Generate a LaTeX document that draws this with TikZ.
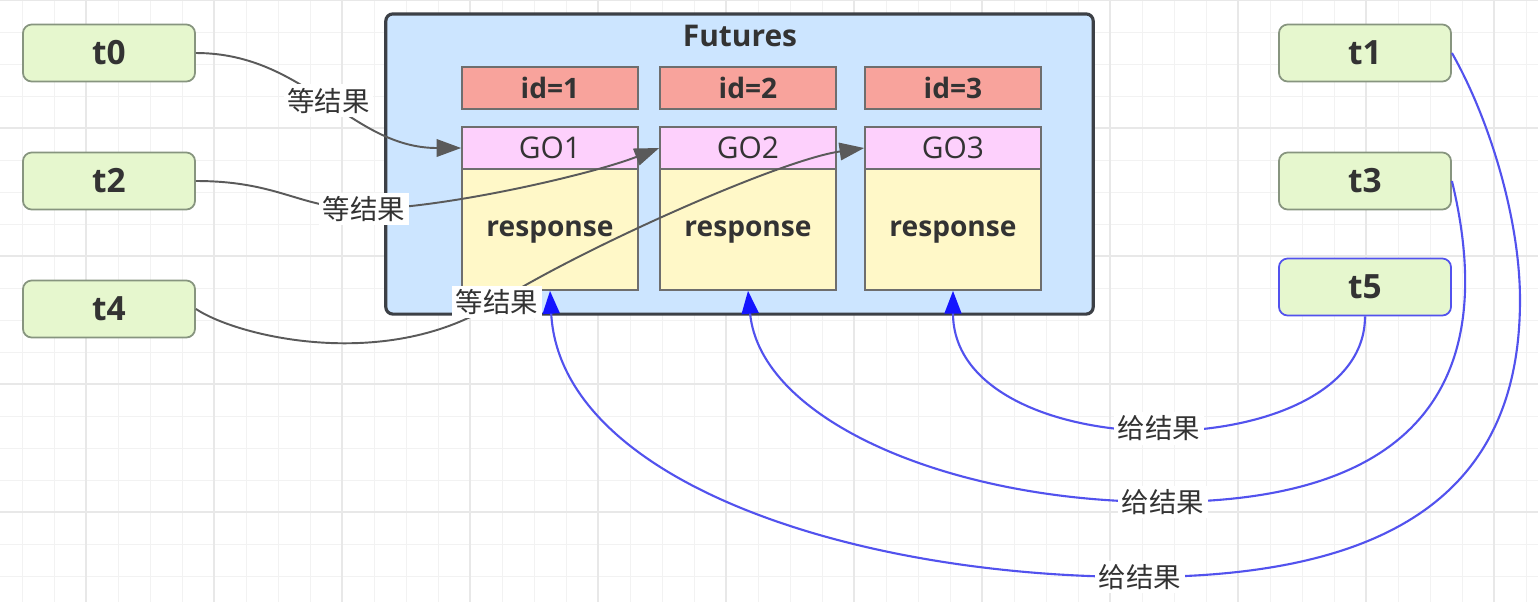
\documentclass[tikz,border=0pt]{standalone}
\usepackage{fontspec}
\setmainfont{Open Sans}
\newfontfamily\cjk{Noto Sans CJK SC}
\usetikzlibrary{arrows.meta}

\definecolor{textdark}{HTML}{333333}
\definecolor{threadfill}{HTML}{E6F7CE}
\definecolor{threadline}{HTML}{87957F}
\definecolor{futfill}{HTML}{CCE5FF}
\definecolor{futline}{HTML}{3C4046}
\definecolor{cellline}{HTML}{6E6E6E}
\definecolor{idfill}{HTML}{F8A39C}
\definecolor{gofill}{HTML}{FDD0FC}
\definecolor{respfill}{HTML}{FFF8C8}
\definecolor{waitline}{HTML}{5A5A5A}
\definecolor{giveline}{HTML}{5252EE}
\definecolor{giveblue}{HTML}{1414FF}

\begin{document}
\begin{tikzpicture}[
    x=0.01cm, y=-0.01cm,
    thread/.style={
        rectangle,
        rounded corners=2.5pt,
        draw=threadline,
        fill=threadfill,
        line width=0.5pt,
        minimum width=1.72cm,
        minimum height=0.57cm,
        text=textdark,
        font=\bfseries\fontsize{9.5}{12}\selectfont
    },
    futbox/.style={
        rectangle,
        rounded corners=2pt,
        draw=futline,
        fill=futfill,
        line width=0.9pt,
        minimum width=7.07cm,
        minimum height=3.0cm
    },
    cell/.style={
        rectangle,
        draw=cellline,
        line width=0.45pt,
        minimum width=1.76cm,
        inner sep=0pt,
        text=textdark
    },
    idbox/.style={cell, fill=idfill, minimum height=0.42cm,
        font=\bfseries\fontsize{8}{10}\selectfont},
    gobox/.style={cell, fill=gofill, minimum height=0.42cm,
        font=\fontsize{8.5}{10}\selectfont},
    respbox/.style={cell, fill=respfill, minimum height=1.21cm,
        text height=0.21cm, font=\bfseries\fontsize{8}{10}\selectfont},
    wait/.style={draw=waitline, line width=0.55pt,
        -{Triangle[length=7pt,width=5pt]}},
    give/.style={draw=giveline, line width=0.6pt,
        -{Triangle[length=6.5pt,width=4.8pt,color=giveblue]}},
    lbl/.style={fill=white, inner sep=1pt, text=textdark,
        font=\cjk\fontsize{7.8}{9}\selectfont},
    gridminor/.style={draw=black!5, line width=0.25pt},
    gridmajor/.style={draw=black!9, line width=0.35pt}
]

% Background grid
\useasboundingbox (0,0) rectangle (1538,602);
\fill[white] (0,0) rectangle (1538,602);
\foreach \gx in {22,54,...,1538} \draw[gridminor] (\gx,0) -- (\gx,602);
\foreach \gy in {0,32,...,602} \draw[gridminor] (0,\gy) -- (1538,\gy);
\foreach \gx in {86,214,...,1538} \draw[gridmajor] (\gx,0) -- (\gx,602);
\foreach \gy in {0,128,...,602} \draw[gridmajor] (0,\gy) -- (1538,\gy);

% Waiting threads
\node (t0) [thread] at (109,53) {t0};
\node (t2) [thread] at (109,181) {t2};
\node (t4) [thread] at (109,309) {t4};

% Result threads
\node (t1) [thread] at (1365,53) {t1};
\node (t3) [thread] at (1365,181) {t3};
\node (t5) [thread, draw=giveline] at (1365,287) {t5};

% Futures container
\node (fut) [futbox] at (739.5,164) {};
\node (title) [text=textdark, font=\bfseries\fontsize{8.5}{10}\selectfont]
    at (740,36) {Futures};

\foreach \i/\cx in {1/550, 2/748, 3/953} {
    \node (id\i) [idbox] at (\cx,88) {id=\i};
    \node (go\i) [gobox] at (\cx,148) {GO\i};
    \node (resp\i) [respbox] at (\cx,229.5) {response};
}

% Waiting for results
\draw[wait] (t0.east) .. controls (306,53) and (351,148) ..
    node[lbl] {等结果} (go1.west);
\draw[wait] (t2.east) .. controls (280,181) and (300,209) .. (364,209)
    node[lbl] {等结果}
    .. controls (440,209) and (590,175) .. (go2.west);
\draw[wait] (t4.east) .. controls (240,338) and (390,372) .. (497,302)
    node[lbl] {等结果}
    .. controls (583,248) and (780,160) .. (go3.west);

% Giving results
\draw[give] (t5.south) .. controls (1365,470) and (953,470) ..
    node[lbl] {给结果} (resp3.south);
\draw[give] (t3.east) .. controls (1500,380) and (1420,502) .. (1163,502)
    node[lbl] {给结果}
    .. controls (950,502) and (760,420) .. (resp2.south);
\draw[give] (t1.east) .. controls (1490,120) and (1520,220) .. (1520,300)
    .. controls (1520,470) and (1420,577) .. (1140,577)
    node[lbl] {给结果}
    .. controls (850,577) and (560,480) .. (resp1.south);

\end{tikzpicture}
\end{document}
